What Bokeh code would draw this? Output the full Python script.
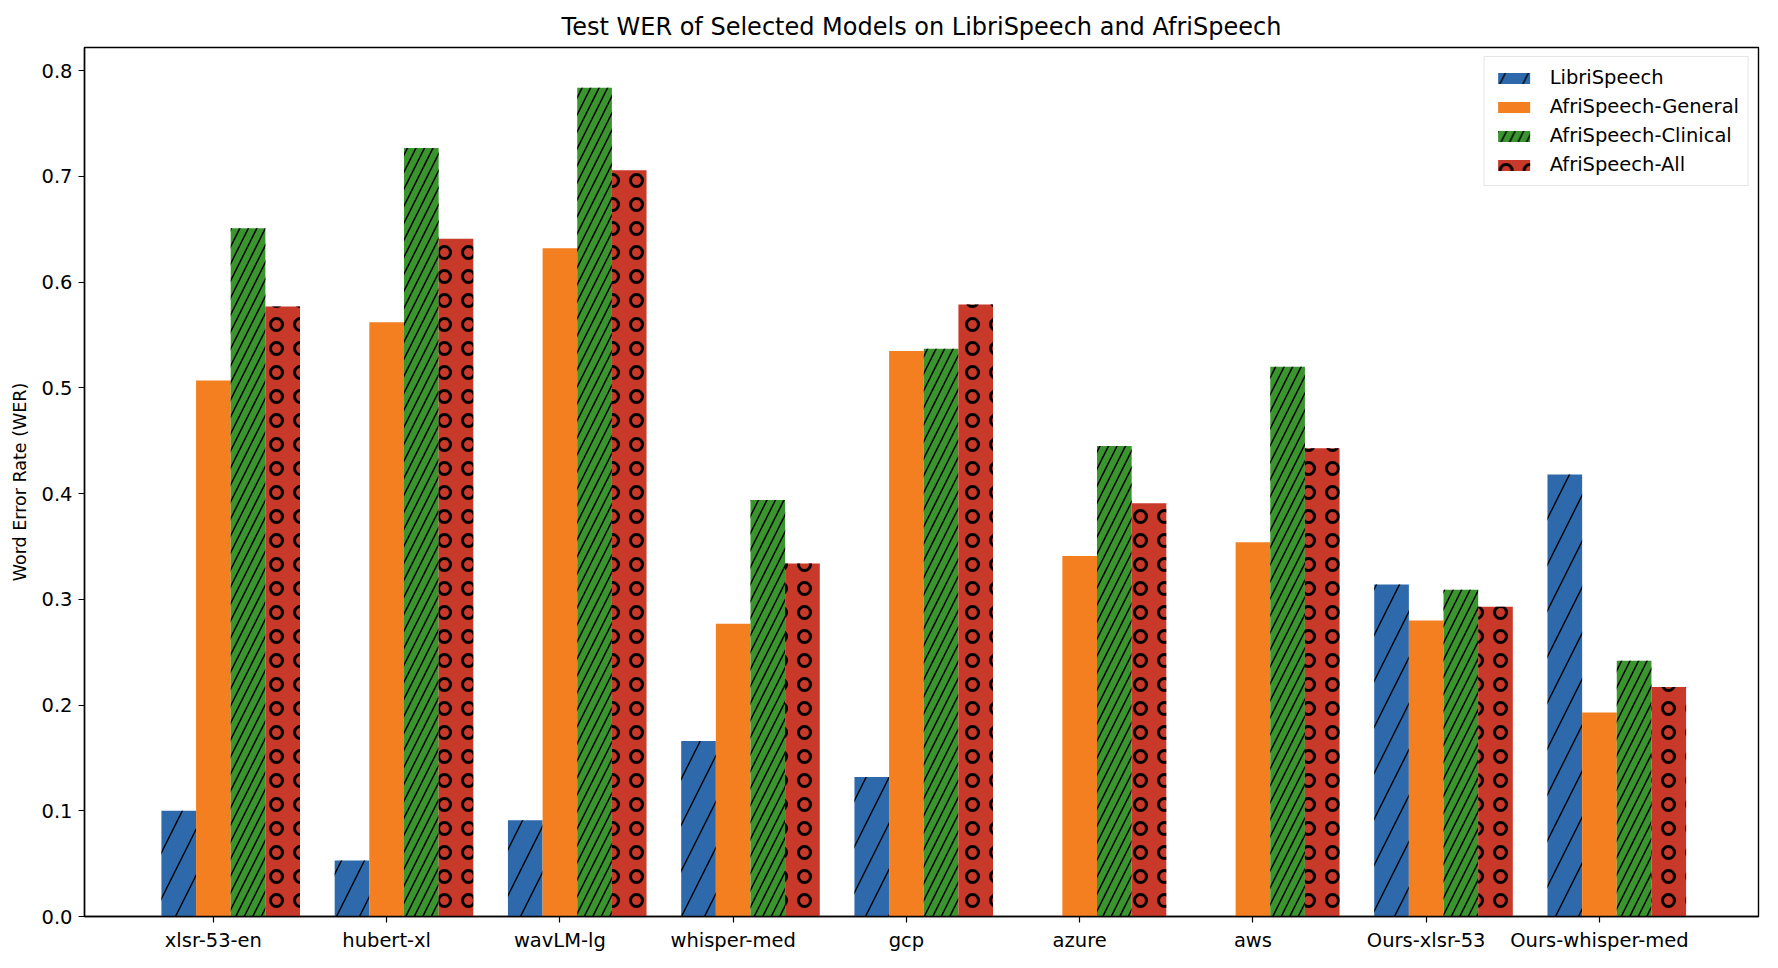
from bokeh.plotting import figure
from bokeh.models import ColumnDataSource, FixedTicker, PrintfTickFormatter, Range1d, Legend, LegendItem
from bokeh.transform import dodge
from bokeh.embed import file_html
from bokeh.resources import INLINE

models = ["xlsr-53-en", "hubert-xl", "wavLM-lg", "whisper-med", "gcp", "azure", "aws",
          "Ours-xlsr-53", "Ours-whisper-med"]
librispeech = [0.100, 0.053, 0.091, 0.166, 0.132, 0.0, 0.0, 0.314, 0.418]
afri_general = [0.507, 0.562, 0.632, 0.277, 0.535, 0.341, 0.354, 0.280, 0.193]
afri_clinical = [0.651, 0.727, 0.784, 0.394, 0.537, 0.445, 0.520, 0.309, 0.242]
afri_all = [0.577, 0.641, 0.706, 0.334, 0.579, 0.391, 0.443, 0.293, 0.217]
series_names = ["LibriSpeech", "AfriSpeech-General", "AfriSpeech-Clinical", "AfriSpeech-All"]
y_ticks = [0.0, 0.1, 0.2, 0.3, 0.4, 0.5, 0.6, 0.7, 0.8]

FONT = "DejaVu Sans"

src = ColumnDataSource(dict(
    x=list(range(len(models))),
    libri=librispeech, gen=afri_general, clin=afri_clinical, all=afri_all,
))

p = figure(width=1766, height=954, output_backend="svg", toolbar_location=None,
           x_range=Range1d(-0.744, 8.918), y_range=Range1d(0, 0.822),
           min_border_left=84, min_border_right=8, min_border_top=47, min_border_bottom=33,
           title="Test WER of Selected Models on LibriSpeech and AfriSpeech")

p.title.align = "center"
p.title.text_font = FONT
p.title.text_font_size = "24px"
p.title.text_font_style = "normal"
p.title.text_color = "black"
p.title.standoff = 13

styles = [
    ("libri", -0.2, "#2e6aab", "/", 46, 1.4),
    ("gen", 0.0, "#f47f20", None, 12, 1.0),
    ("clin", 0.2, "#3a952f", "/", 17, 1.5),
    ("all", 0.4, "#c8392a", "o", 24, 3.0),
]
items = []
for (field, off, color, hatch, scale, weight), name in zip(styles, series_names):
    kw = {}
    if hatch:
        kw = dict(hatch_pattern=hatch, hatch_color="black", hatch_scale=scale, hatch_weight=weight)
    r = p.vbar(x=dodge("x", off), top=field, width=0.2, bottom=0, source=src,
               fill_color=color, line_color=None, **kw)
    items.append(LegendItem(label=name, renderers=[r]))

legend = Legend(items=items, location="top_right")
legend.label_text_font = FONT
legend.label_text_font_size = "19.5px"
legend.label_text_color = "black"
legend.glyph_width = 40
legend.glyph_height = 14
legend.label_height = 20
legend.spacing = 6
legend.padding = 9
legend.margin = 9
legend.label_standoff = 16
legend.border_line_color = "#cccccc"
legend.border_line_width = 1
legend.background_fill_alpha = 0.8
p.add_layout(legend)

p.xgrid.visible = False
p.ygrid.visible = False
p.outline_line_color = "black"
p.outline_line_width = 1.4

p.xaxis.ticker = FixedTicker(ticks=list(range(len(models))))
p.xaxis.major_label_overrides = {i: m for i, m in enumerate(models)}
p.yaxis.ticker = FixedTicker(ticks=y_ticks)
p.yaxis.formatter = PrintfTickFormatter(format="%.1f")
p.yaxis.axis_label = "Word Error Rate (WER)"

for ax in (p.xaxis, p.yaxis):
    ax.major_tick_out = 6
    ax.major_tick_in = 0
    ax.minor_tick_out = 0
    ax.minor_tick_in = 0
    ax.major_tick_line_width = 1.2
    ax.axis_line_width = 1.4
    ax.major_label_text_font = FONT
    ax.major_label_text_font_size = "19.5px"
    ax.major_label_text_color = "black"
    ax.major_label_standoff = 6
    ax.axis_label_text_font = FONT
    ax.axis_label_text_font_size = "17.5px"
    ax.axis_label_text_font_style = "normal"
    ax.axis_label_text_color = "black"
p.yaxis.axis_label_standoff = 8

open("out.html", "w").write(file_html(p, INLINE))
